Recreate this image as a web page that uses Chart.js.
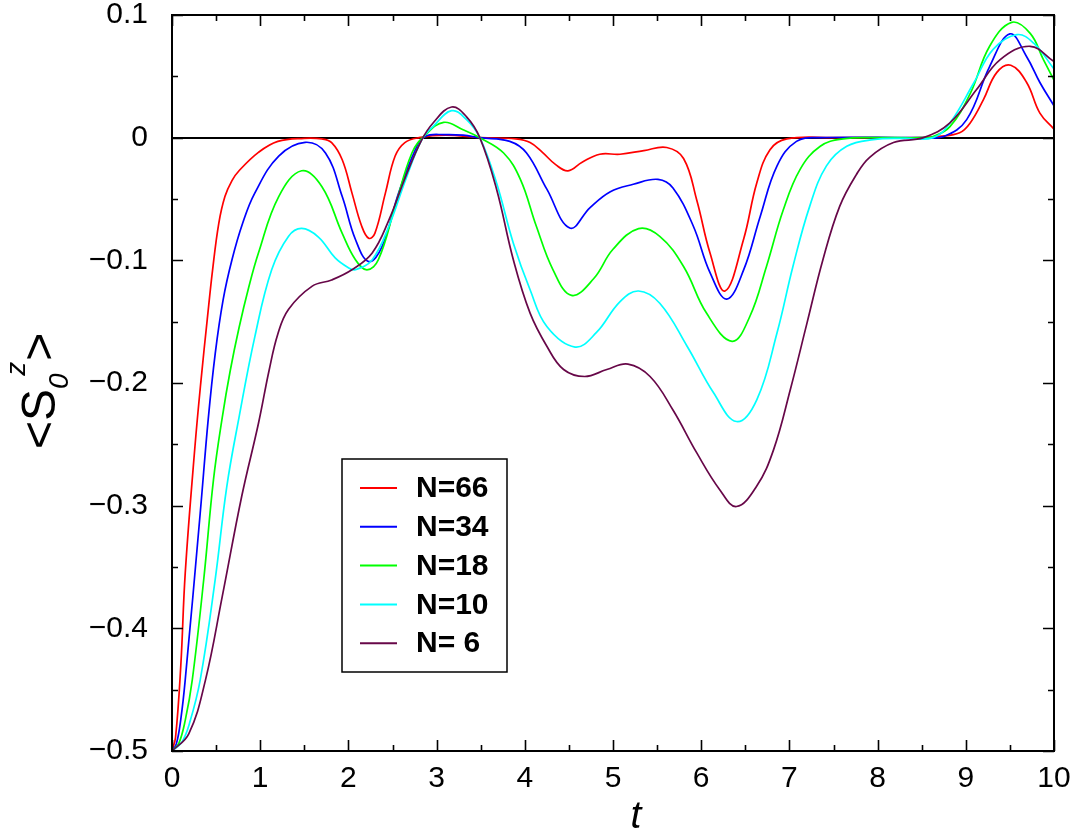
<!DOCTYPE html>
<html><head><meta charset="utf-8">
<script src="https://cdn.jsdelivr.net/npm/chart.js@4.4.1/dist/chart.umd.min.js"></script>
<style>html,body{margin:0;padding:0;background:#fff}#wrap{width:1076px;height:834px}</style>
</head><body><div id="wrap"><canvas id="c" width="1076" height="834"></canvas></div>
<script>
const seriesLabels = ['N=66', 'N=34', 'N=18', 'N=10', 'N= 6'];
const seriesColors = ['#ff0000', '#0000ff', '#00ff00', '#00ffff', '#670748'];

const t66 = [0, 0.04, 0.1, 0.15, 0.26, 0.33, 0.40, 0.46, 0.53, 0.6, 0.68, 0.76, 0.98, 1.2, 1.5, 1.7, 1.81, 1.93, 2.04, 2.15, 2.23, 2.30, 2.42, 2.53, 2.64, 2.8, 3.1, 3.5, 3.9, 4.06, 4.2, 4.35, 4.49, 4.65, 4.85, 5.08, 5.35, 5.61, 5.8, 5.95, 6.1, 6.27, 6.48, 6.63, 6.78, 6.97, 7.5, 8.5, 8.7, 8.93, 9.05, 9.2, 9.35, 9.51, 9.69, 9.84, 10];
const s66 = [-0.5, -0.489, -0.43, -0.355, -0.252, -0.197, -0.148, -0.108, -0.07, -0.048, -0.035, -0.027, -0.012, -0.003, -0.0005, -0.001, -0.004, -0.018, -0.045, -0.072, -0.082, -0.078, -0.045, -0.015, -0.004, 0, 0.002, 0, -0.001, -0.004, -0.012, -0.022, -0.027, -0.02, -0.0135, -0.0135, -0.0105, -0.008, -0.017, -0.051, -0.094, -0.125, -0.083, -0.037, -0.0098, -0.001, 0, 0, 0.001, 0.004, 0.012, 0.031, 0.053, 0.059, 0.045, 0.020, 0.007];

const t34 = [0, 0.05, 0.1, 0.15, 0.32, 0.41, 0.49, 0.58, 0.68, 0.8, 0.94, 1.21, 1.51, 1.74, 1.93, 2.08, 2.23, 2.38, 2.57, 2.76, 2.87, 3.1, 3.3, 3.49, 3.83, 4.02, 4.25, 4.51, 4.74, 4.97, 5.23, 5.51, 5.68, 5.91, 6.1, 6.29, 6.48, 6.67, 6.86, 7.08, 7.35, 8.5, 8.75, 9.01, 9.27, 9.5, 9.69, 9.84, 10];
const s34 = [-0.5, -0.494, -0.474, -0.442, -0.306, -0.23, -0.176, -0.132, -0.0995, -0.07, -0.045, -0.015, -0.0038, -0.0125, -0.048, -0.083, -0.101, -0.089, -0.045, -0.0098, 0.001, 0.0025, 0.002, 0, -0.003, -0.0125, -0.042, -0.0737, -0.057, -0.044, -0.038, -0.034, -0.041, -0.072, -0.110, -0.1316, -0.108, -0.064, -0.023, -0.003, 0, 0, 0.001, 0.0147, 0.058, 0.0846, 0.066, 0.045, 0.026];

const t18 = [0, 0.076, 0.15, 0.23, 0.36, 0.47, 0.57, 0.66, 0.76, 0.87, 0.98, 1.21, 1.47, 1.70, 1.93, 2.08, 2.21, 2.34, 2.53, 2.72, 2.87, 3.08, 3.30, 3.49, 3.76, 3.95, 4.13, 4.32, 4.53, 4.78, 5.0, 5.29, 5.53, 5.80, 6.06, 6.35, 6.55, 6.74, 6.93, 7.12, 7.35, 7.61, 8.0, 8.5, 8.63, 8.82, 9.05, 9.27, 9.52, 9.73, 9.88, 10];
const s18 = [-0.5, -0.494, -0.475, -0.442, -0.36, -0.279, -0.228, -0.19, -0.155, -0.122, -0.094, -0.048, -0.027, -0.040, -0.078, -0.0995, -0.1077, -0.0995, -0.056, -0.0125, 0.002, 0.0125, 0.0065, 0, -0.0125, -0.034, -0.072, -0.1077, -0.1286, -0.115, -0.091, -0.0742, -0.0805, -0.105, -0.143, -0.166, -0.146, -0.105, -0.059, -0.026, -0.007, -0.001, 0, 0, 0.001, 0.009, 0.036, 0.0745, 0.094, 0.085, 0.0636, 0.047];

const t10 = [0, 0.11, 0.2, 0.32, 0.49, 0.62, 0.76, 0.94, 1.13, 1.32, 1.47, 1.66, 1.85, 2.0, 2.08, 2.27, 2.46, 2.65, 2.83, 2.96, 3.17, 3.34, 3.49, 3.68, 3.87, 4.06, 4.25, 4.57, 4.81, 5.08, 5.29, 5.53, 5.84, 6.14, 6.40, 6.63, 6.86, 7.04, 7.23, 7.42, 7.65, 7.95, 8.3, 8.63, 8.82, 9.09, 9.31, 9.58, 9.77, 10];
const s10 = [-0.5, -0.493, -0.477, -0.442, -0.36, -0.285, -0.228, -0.162, -0.1077, -0.0805, -0.074, -0.081, -0.098, -0.106, -0.1077, -0.0995, -0.072, -0.034, -0.002, 0.009, 0.022, 0.0147, 0, -0.037, -0.086, -0.124, -0.154, -0.1707, -0.159, -0.1336, -0.125, -0.135, -0.170, -0.208, -0.2314, -0.2137, -0.159, -0.105, -0.056, -0.023, -0.007, -0.0016, -0.0005, 0, 0.012, 0.0446, 0.072, 0.084, 0.077, 0.056];

const t6 = [0, 0.19, 0.38, 0.57, 0.79, 0.98, 1.1, 1.2, 1.32, 1.59, 1.81, 2.04, 2.27, 2.46, 2.65, 2.83, 2.96, 3.17, 3.34, 3.49, 3.68, 3.87, 4.06, 4.25, 4.44, 4.68, 4.93, 5.17, 5.42, 5.68, 5.95, 6.21, 6.40, 6.63, 6.82, 7.01, 7.20, 7.38, 7.57, 7.76, 7.91, 8.18, 8.52, 8.82, 9.12, 9.39, 9.73, 10];
const s6 = [-0.5, -0.486, -0.442, -0.374, -0.2925, -0.233, -0.19, -0.16, -0.140, -0.121, -0.116, -0.1077, -0.094, -0.067, -0.0315, -0.002, 0.012, 0.025, 0.017, 0, -0.042, -0.0995, -0.143, -0.170, -0.189, -0.1947, -0.189, -0.1846, -0.1947, -0.222, -0.257, -0.287, -0.3007, -0.284, -0.2545, -0.2055, -0.151, -0.0995, -0.056, -0.03, -0.016, -0.004, 0, 0.012, 0.039, 0.0636, 0.0745, 0.062];

const xTicks = [0, 1, 2, 3, 4, 5, 6, 7, 8, 9, 10];
const xMinorTicks = [0.5, 1.5, 2.5, 3.5, 4.5, 5.5, 6.5, 7.5, 8.5, 9.5];
const yTicks = [-0.5, -0.4, -0.3, -0.2, -0.1, 0, 0.1];
const yMinorTicks = [-0.45, -0.35, -0.25, -0.15, -0.05, 0.05];

const seriesT = [t66, t34, t18, t10, t6];
const seriesS = [s66, s34, s18, s10, s6];

const FONT = '"Liberation Sans", Arial, Helvetica, sans-serif';

const datasets = seriesLabels.map((lab, i) => ({
  label: lab,
  data: seriesT[i].map((t, k) => ({x: t, y: seriesS[i][k]})),
  borderColor: seriesColors[i],
  backgroundColor: seriesColors[i],
  borderWidth: 1.7,
  pointRadius: 0,
  fill: false,
  tension: 0.4,
  order: 5 - i
}));

function fmtY(v) {
  const r = Math.round(v * 10) / 10;
  if (r === 0) return '0';
  return r < 0 ? '\u2212' + Math.abs(r).toFixed(1) : r.toFixed(1);
}

const framePlugin = {
  id: 'frame',
  afterDraw(chart) {
    const ctx = chart.ctx, a = chart.chartArea;
    const xs = chart.scales.x, ys = chart.scales.y;
    ctx.save();
    ctx.strokeStyle = '#000';
    ctx.lineWidth = 2;
    ctx.strokeRect(a.left, a.top, a.right - a.left, a.bottom - a.top);
    ctx.lineWidth = 1.6;
    ctx.beginPath();
    const tickX = (vals, len) => vals.forEach(v => {
      const p = Math.round(xs.getPixelForValue(v)) + 0.5;
      ctx.moveTo(p, a.bottom); ctx.lineTo(p, a.bottom - len);
      ctx.moveTo(p, a.top); ctx.lineTo(p, a.top + len);
    });
    const tickY = (vals, len) => vals.forEach(v => {
      const p = Math.round(ys.getPixelForValue(v)) + 0.5;
      ctx.moveTo(a.left, p); ctx.lineTo(a.left + len, p);
      ctx.moveTo(a.right, p); ctx.lineTo(a.right - len, p);
    });
    tickX(xTicks, 11); tickX(xMinorTicks, 6);
    tickY(yTicks, 11); tickY(yMinorTicks, 6);
    ctx.stroke();

    // x title
    ctx.fillStyle = '#000';
    ctx.font = 'italic 39px ' + FONT;
    ctx.textAlign = 'center';
    ctx.textBaseline = 'alphabetic';
    ctx.fillText('t', 636, 828);

    // y title <S_0^z>
    ctx.save();
    ctx.translate(55, 449);
    ctx.rotate(-Math.PI / 2);
    ctx.textAlign = 'left';
    let x = 0;
    ctx.font = '48px ' + FONT;
    ctx.fillText('<', x, 0); x += ctx.measureText('<').width;
    ctx.fillText('S', x, 0); x += ctx.measureText('S').width;
    ctx.font = 'italic 28px ' + FONT;
    ctx.fillText('0', x, 13); x += ctx.measureText('0').width * 0.85;
    ctx.fillText('z', x, -30); x += ctx.measureText('z').width + 1;
    ctx.font = '48px ' + FONT;
    ctx.fillText('>', x, 0);
    ctx.restore();

    // legend
    const lx = 342, ly = 459, lw = 165, lh = 213;
    ctx.fillStyle = '#fff';
    ctx.fillRect(lx, ly, lw, lh);
    ctx.strokeStyle = '#000';
    ctx.lineWidth = 1.5;
    ctx.strokeRect(lx, ly, lw, lh);
    ctx.font = 'bold 30px ' + FONT;
    ctx.textAlign = 'left';
    ctx.textBaseline = 'middle';
    chart.data.datasets.forEach((ds, i) => {
      const yy = 488 + i * 38.8;
      ctx.strokeStyle = ds.borderColor;
      ctx.lineWidth = 2;
      ctx.beginPath(); ctx.moveTo(360, yy); ctx.lineTo(397, yy); ctx.stroke();
      ctx.fillStyle = '#000';
      ctx.fillText(ds.label, 416, yy + 1);
    });
    ctx.restore();
  }
};

new Chart(document.getElementById('c'), {
  type: 'line',
  data: { datasets },
  plugins: [framePlugin],
  options: {
    responsive: false,
    animation: false,
    devicePixelRatio: 1,
    layout: { padding: { left: 0, top: 15, right: 22, bottom: 0 } },
    plugins: { legend: { display: false }, tooltip: { enabled: false } },
    scales: {
      x: {
        type: 'linear', min: 0, max: 10,
        afterBuildTicks: s => { s.ticks = xTicks.map(v => ({ value: v })); },
        afterFit: s => { s.height = 83; s.paddingLeft = 0; s.paddingRight = 0; },
        grid: { display: false, drawTicks: false },
        border: { display: false },
        ticks: { color: '#000', font: { family: FONT, size: 30 }, padding: 10, maxRotation: 0, autoSkip: false,
                 callback: v => String(v) }
      },
      y: {
        type: 'linear', min: -0.5, max: 0.1,
        afterBuildTicks: s => { s.ticks = yTicks.map(v => ({ value: v })); },
        afterFit: s => { s.width = 172; s.paddingTop = 0; s.paddingBottom = 0; },
        grid: { drawTicks: false, lineWidth: 2, color: c => (c.tick && Math.abs(c.tick.value) < 1e-9) ? '#000' : 'rgba(0,0,0,0)' },
        border: { display: false },
        ticks: { color: '#000', font: { family: FONT, size: 30 }, padding: 24, autoSkip: false,
                 callback: v => fmtY(v) }
      }
    }
  }
});
</script>
</body></html>
